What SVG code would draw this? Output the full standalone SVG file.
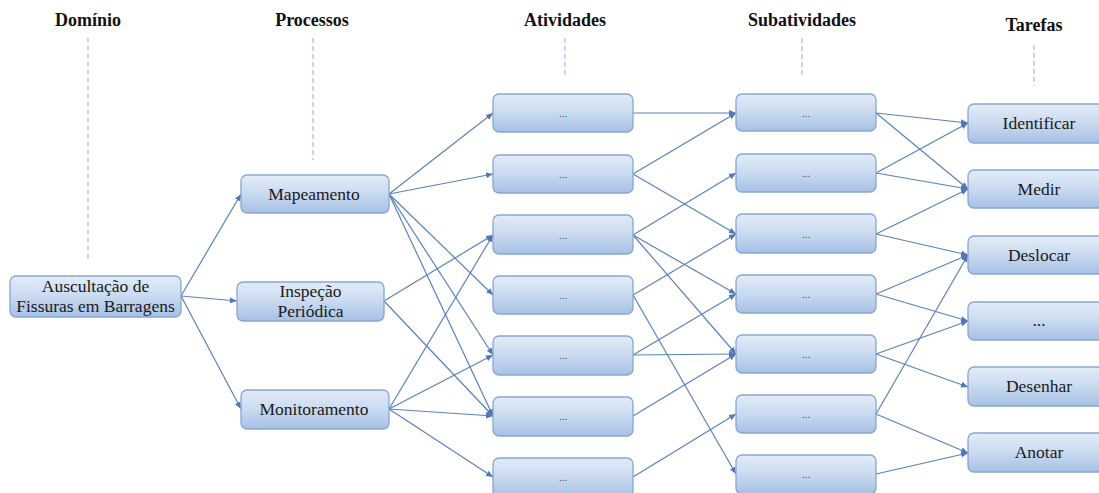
<svg xmlns="http://www.w3.org/2000/svg" width="1099" height="493" viewBox="0 0 1099 493">
  <defs>
    <linearGradient id="boxFill" x1="0" y1="0" x2="0" y2="1">
      <stop offset="0" stop-color="#e3ecf8"/>
      <stop offset="0.5" stop-color="#c9daf0"/>
      <stop offset="1" stop-color="#a6c0e4"/>
    </linearGradient>
    <marker id="arrow" markerUnits="userSpaceOnUse" markerWidth="8" markerHeight="8" viewBox="0 0 8 8" refX="7" refY="4" orient="auto">
      <path d="M0,1 L7,4 L0,7 z" fill="#4f79b5"/>
    </marker>
    <style>
      .box { fill: url(#boxFill); stroke: #86a7d3; stroke-width: 1.3; }
      .lbl { font-family: "Liberation Serif", "Times New Roman", serif; font-size: 17.5px; fill: #1a1a1a; text-anchor: middle; }
      .dots { font-family: "Liberation Serif", "Times New Roman", serif; font-size: 11px; fill: #555; text-anchor: middle; }
      .head { font-family: "Liberation Serif", "Times New Roman", serif; font-size: 18px; font-weight: bold; fill: #111; text-anchor: middle; }
      .guide { stroke: #8fb0d8; stroke-width: 1; stroke-dasharray: 5 3; fill: none; }
      .edge { stroke: #5a82bb; stroke-width: 1.2; fill: none; marker-end: url(#arrow); }
    </style>
  </defs>

  <!-- column headings -->
  <g id="headings">
    <text class="head" x="88" y="26">Domínio</text>
    <text class="head" x="312" y="26">Processos</text>
    <text class="head" x="565" y="26">Atividades</text>
    <text class="head" x="802" y="26">Subatividades</text>
    <text class="head" x="1034" y="31">Tarefas</text>
  </g>

  <!-- dashed guides below headings -->
  <g id="guides">
    <line class="guide" x1="88" y1="38" x2="88" y2="262"/>
    <line class="guide" x1="313" y1="38" x2="313" y2="160"/>
    <line class="guide" x1="565" y1="38" x2="565" y2="76"/>
    <line class="guide" x1="802" y1="38" x2="802" y2="76"/>
    <line class="guide" x1="1034" y1="45" x2="1034" y2="86"/>
  </g>

  <!-- connectors -->
  <g id="connectors">
    <!-- domain to processes -->
    <line class="edge" x1="181" y1="296" x2="241" y2="194"/>
    <line class="edge" x1="181" y1="296" x2="237" y2="301"/>
    <line class="edge" x1="181" y1="296" x2="241" y2="409"/>
    <!-- processes to activities -->
    <line class="edge" x1="389" y1="194" x2="493" y2="113"/>
    <line class="edge" x1="389" y1="194" x2="493" y2="174"/>
    <line class="edge" x1="389" y1="194" x2="493" y2="295"/>
    <line class="edge" x1="389" y1="194" x2="493" y2="355"/>
    <line class="edge" x1="389" y1="194" x2="493" y2="416"/>
    <line class="edge" x1="384" y1="301" x2="493" y2="235"/>
    <line class="edge" x1="384" y1="301" x2="493" y2="416"/>
    <line class="edge" x1="389" y1="409" x2="493" y2="235"/>
    <line class="edge" x1="389" y1="409" x2="493" y2="355"/>
    <line class="edge" x1="389" y1="409" x2="493" y2="416"/>
    <line class="edge" x1="389" y1="409" x2="493" y2="477"/>
    <!-- activities to subactivities -->
    <line class="edge" x1="633" y1="113" x2="736" y2="113"/>
    <line class="edge" x1="633" y1="174" x2="736" y2="113"/>
    <line class="edge" x1="633" y1="174" x2="736" y2="234"/>
    <line class="edge" x1="633" y1="235" x2="736" y2="173"/>
    <line class="edge" x1="633" y1="235" x2="736" y2="294"/>
    <line class="edge" x1="633" y1="235" x2="736" y2="354"/>
    <line class="edge" x1="633" y1="295" x2="736" y2="234"/>
    <line class="edge" x1="633" y1="295" x2="736" y2="474"/>
    <line class="edge" x1="633" y1="355" x2="736" y2="294"/>
    <line class="edge" x1="633" y1="355" x2="736" y2="354"/>
    <line class="edge" x1="633" y1="416" x2="736" y2="354"/>
    <line class="edge" x1="633" y1="477" x2="736" y2="414"/>
    <!-- subactivities to tasks -->
    <line class="edge" x1="876" y1="113" x2="968" y2="123"/>
    <line class="edge" x1="876" y1="113" x2="968" y2="189"/>
    <line class="edge" x1="876" y1="173" x2="968" y2="123"/>
    <line class="edge" x1="876" y1="173" x2="968" y2="189"/>
    <line class="edge" x1="876" y1="234" x2="968" y2="189"/>
    <line class="edge" x1="876" y1="234" x2="968" y2="255"/>
    <line class="edge" x1="876" y1="294" x2="968" y2="255"/>
    <line class="edge" x1="876" y1="294" x2="968" y2="321"/>
    <line class="edge" x1="876" y1="354" x2="968" y2="321"/>
    <line class="edge" x1="876" y1="354" x2="968" y2="387"/>
    <line class="edge" x1="876" y1="414" x2="968" y2="255"/>
    <line class="edge" x1="876" y1="414" x2="968" y2="453"/>
    <line class="edge" x1="876" y1="474" x2="968" y2="453"/>
  </g>

  <!-- domain -->
  <g id="dominio">
    <rect class="box" x="10" y="276" width="171" height="41" rx="6"/>
    <text class="lbl" x="95.5" y="292">Auscultação de</text>
    <text class="lbl" x="95.5" y="312">Fissuras em Barragens</text>
  </g>

  <!-- processes -->
  <g id="mapeamento">
    <rect class="box" x="241" y="175" width="148" height="38" rx="6"/>
    <text class="lbl" x="314" y="200">Mapeamento</text>
  </g>
  <g id="inspecao">
    <rect class="box" x="237" y="282" width="147" height="39" rx="6"/>
    <text class="lbl" x="310.5" y="297">Inspeção</text>
    <text class="lbl" x="310.5" y="317">Periódica</text>
  </g>
  <g id="monitoramento">
    <rect class="box" x="241" y="390" width="148" height="39" rx="6"/>
    <text class="lbl" x="314" y="415">Monitoramento</text>
  </g>

  <!-- activities -->
  <g id="atividade-1"><rect class="box" x="493" y="94" width="140" height="38" rx="6"/><text class="dots" x="563" y="117">...</text></g>
  <g id="atividade-2"><rect class="box" x="493" y="155" width="140" height="38" rx="6"/><text class="dots" x="563" y="178">...</text></g>
  <g id="atividade-3"><rect class="box" x="493" y="215" width="140" height="39" rx="6"/><text class="dots" x="563" y="239">...</text></g>
  <g id="atividade-4"><rect class="box" x="493" y="276" width="140" height="38" rx="6"/><text class="dots" x="563" y="299">...</text></g>
  <g id="atividade-5"><rect class="box" x="493" y="336" width="140" height="39" rx="6"/><text class="dots" x="563" y="359">...</text></g>
  <g id="atividade-6"><rect class="box" x="493" y="397" width="140" height="39" rx="6"/><text class="dots" x="563" y="420">...</text></g>
  <g id="atividade-7"><rect class="box" x="493" y="458" width="140" height="39" rx="6"/><text class="dots" x="563" y="481">...</text></g>

  <!-- subactivities -->
  <g id="subatividade-1"><rect class="box" x="736" y="94" width="140" height="37" rx="6"/><text class="dots" x="806" y="117">...</text></g>
  <g id="subatividade-2"><rect class="box" x="736" y="154" width="140" height="38" rx="6"/><text class="dots" x="806" y="177">...</text></g>
  <g id="subatividade-3"><rect class="box" x="736" y="214" width="140" height="39" rx="6"/><text class="dots" x="806" y="238">...</text></g>
  <g id="subatividade-4"><rect class="box" x="736" y="275" width="140" height="38" rx="6"/><text class="dots" x="806" y="298">...</text></g>
  <g id="subatividade-5"><rect class="box" x="736" y="335" width="140" height="38" rx="6"/><text class="dots" x="806" y="358">...</text></g>
  <g id="subatividade-6"><rect class="box" x="736" y="395" width="140" height="38" rx="6"/><text class="dots" x="806" y="418">...</text></g>
  <g id="subatividade-7"><rect class="box" x="736" y="455" width="140" height="39" rx="6"/><text class="dots" x="806" y="478">...</text></g>

  <!-- tasks -->
  <g id="identificar"><rect class="box" x="968" y="104" width="140" height="39" rx="6"/><text class="lbl" x="1039" y="129">Identificar</text></g>
  <g id="medir"><rect class="box" x="968" y="170" width="140" height="38" rx="6"/><text class="lbl" x="1039" y="195">Medir</text></g>
  <g id="deslocar"><rect class="box" x="968" y="236" width="140" height="38" rx="6"/><text class="lbl" x="1039" y="261">Deslocar</text></g>
  <g id="tarefa-4"><rect class="box" x="968" y="302" width="140" height="38" rx="6"/><text class="lbl" x="1039" y="326">...</text></g>
  <g id="desenhar"><rect class="box" x="968" y="367" width="140" height="39" rx="6"/><text class="lbl" x="1039" y="392">Desenhar</text></g>
  <g id="anotar"><rect class="box" x="968" y="433" width="140" height="39" rx="6"/><text class="lbl" x="1039" y="458">Anotar</text></g>
</svg>
